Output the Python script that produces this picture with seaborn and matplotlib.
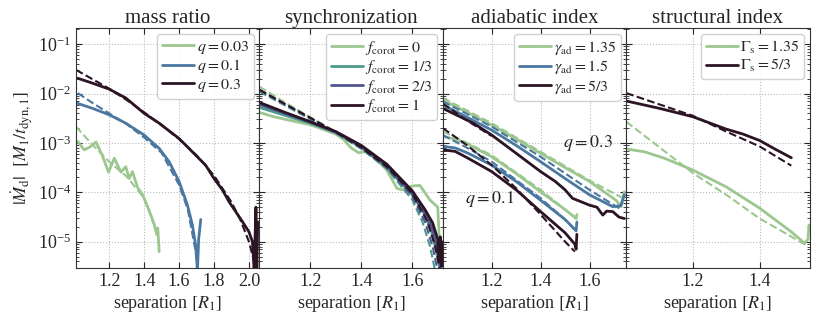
import numpy as np
import pandas as pd
import seaborn as sns
from matplotlib import pyplot as plt
from matplotlib.ticker import LogLocator

sns.set_style("ticks")
plt.rcParams['font.family'] = ['Liberation Serif', 'DejaVu Serif']
plt.rcParams['mathtext.fontset'] = 'stix'

GREEN = '#9cc78f'
BLUE = '#4b78a0'
DARK = '#2b1424'
TEAL = '#4a9a8d'
PURPLE = '#4f5690'

# ---- mass ratio panel (x in R1, y as log10 |Mdot|) ----
q003_x = [1.02, 1.057, 1.09, 1.124, 1.16, 1.196, 1.229, 1.267, 1.295, 1.314, 1.333, 1.362, 1.39, 1.429, 1.457, 1.472, 1.478, 1.486]
q003_y = [-2.97, -3.14, -3.08, -2.98, -3.25, -3.59, -3.31, -3.59, -3.48, -3.72, -3.58, -3.9, -4.04, -4.37, -4.64, -4.85, -4.72, -5.2]
q003_fx = [1.01, 1.1, 1.2, 1.3, 1.4, 1.45, 1.48]
q003_fy = [-2.67, -3.02, -3.38, -3.68, -4.12, -4.6, -4.85]
q01_x = [1.02, 1.105, 1.2, 1.295, 1.4, 1.486, 1.543, 1.6, 1.648, 1.676, 1.695, 1.705, 1.712, 1.724]
q01_y = [-2.2, -2.3, -2.43, -2.6, -2.84, -3.11, -3.38, -3.78, -4.26, -4.66, -5.07, -5.6, -4.95, -4.55]
q01_fx = [1.02, 1.1, 1.2, 1.3, 1.4, 1.5, 1.6, 1.65, 1.695, 1.71]
q01_fy = [-1.99, -2.18, -2.4, -2.62, -2.89, -3.2, -3.85, -4.35, -5.2, -5.6]
q03_x = [1.02, 1.105, 1.2, 1.295, 1.4, 1.486, 1.6, 1.676, 1.752, 1.8, 1.848, 1.886, 1.924, 1.962, 2.0, 2.02, 2.03, 2.035, 2.04, 2.045, 2.05]
q03_y = [-1.69, -1.79, -1.91, -2.09, -2.4, -2.6, -2.91, -3.18, -3.45, -3.72, -3.95, -4.19, -4.39, -4.59, -4.8, -5.0, -5.6, -4.9, -4.3, -5.6, -4.6]
q03_fx = [1.01, 1.1, 1.2, 1.3, 1.4, 1.5, 1.6, 1.7, 1.8, 1.9, 1.95, 2.0, 2.03, 2.05]
q03_fy = [-1.52, -1.7, -1.9, -2.13, -2.38, -2.64, -2.92, -3.25, -3.66, -4.2, -4.55, -5.0, -5.4, -5.8]

# ---- synchronization panel ----
f0_x = [1.0, 1.05, 1.1, 1.2, 1.3, 1.33, 1.36, 1.39, 1.42, 1.45, 1.5, 1.54, 1.56, 1.6, 1.63, 1.67, 1.70, 1.705, 1.71]
f0_y = [-2.38, -2.46, -2.52, -2.63, -2.82, -2.93, -3.1, -3.2, -3.17, -3.28, -3.55, -3.92, -3.95, -3.87, -3.86, -4.16, -4.3, -4.85, -5.0]
f13_x = [1.0, 1.1, 1.2, 1.3, 1.4, 1.5, 1.6, 1.65, 1.68, 1.70, 1.71]
f13_y = [-2.28, -2.44, -2.6, -2.79, -3.09, -3.5, -4.05, -4.45, -4.85, -5.3, -5.6]
f23_x = [1.0, 1.1, 1.2, 1.3, 1.4, 1.5, 1.6, 1.65, 1.68, 1.70, 1.71]
f23_y = [-2.22, -2.4, -2.58, -2.78, -3.07, -3.47, -4.02, -4.42, -4.75, -5.2, -5.5]
f1_x = [1.0, 1.1, 1.2, 1.3, 1.4, 1.5, 1.6, 1.65, 1.68, 1.70, 1.705, 1.71, 1.715, 1.72]
f1_y = [-2.18, -2.38, -2.57, -2.77, -3.05, -3.43, -3.97, -4.35, -4.62, -4.95, -5.4, -4.9, -5.5, -5.0]
f0_fx = [1.0, 1.1, 1.2, 1.3, 1.4, 1.5, 1.6, 1.65, 1.68, 1.71]
f0_fy = [-1.86, -2.18, -2.48, -2.78, -3.08, -3.45, -4.0, -4.45, -4.9, -5.6]
f13_fx = [1.0, 1.1, 1.2, 1.3, 1.4, 1.5, 1.6, 1.64, 1.67, 1.69]
f13_fy = [-1.96, -2.24, -2.52, -2.8, -3.12, -3.52, -4.15, -4.6, -5.1, -5.6]
f23_fx = [1.0, 1.1, 1.2, 1.3, 1.4, 1.5, 1.6, 1.65, 1.68, 1.70]
f23_fy = [-1.93, -2.22, -2.5, -2.79, -3.1, -3.5, -4.08, -4.6, -5.1, -5.6]
f1_fx = [1.0, 1.1, 1.2, 1.3, 1.4, 1.5, 1.6, 1.66, 1.69, 1.71]
f1_fy = [-1.92, -2.21, -2.49, -2.78, -3.09, -3.48, -4.02, -4.6, -5.1, -5.6]

# ---- adiabatic index panel (two mass ratios) ----
g135_hi_x = [1.0, 1.1, 1.2, 1.3, 1.4, 1.5, 1.6, 1.708, 1.728, 1.742]
g135_hi_y = [-2.13, -2.38, -2.64, -2.92, -3.21, -3.5, -3.78, -4.16, -4.29, -3.99]
g135_hi_fx = [1.0, 1.2, 1.4, 1.6, 1.73]
g135_hi_fy = [-2.09, -2.6, -3.18, -3.76, -4.1]
g15_hi_x = [1.0, 1.1, 1.2, 1.3, 1.4, 1.5, 1.6, 1.695, 1.728, 1.742]
g15_hi_y = [-2.23, -2.48, -2.74, -3.05, -3.38, -3.72, -4.05, -4.29, -4.27, -4.05]
g15_hi_fx = [1.0, 1.2, 1.4, 1.6, 1.73]
g15_hi_fy = [-2.16, -2.67, -3.28, -3.95, -4.35]
g53_hi_x = [1.0, 1.125, 1.2, 1.3, 1.4, 1.46, 1.5, 1.53, 1.6, 1.63, 1.654, 1.67, 1.695, 1.72, 1.742]
g53_hi_y = [-2.3, -2.6, -2.84, -3.21, -3.58, -3.78, -3.95, -4.12, -4.26, -4.3, -4.46, -4.38, -4.39, -4.5, -4.53]
g53_hi_fx = [1.0, 1.1, 1.2]
g53_hi_fy = [-2.2, -2.55, -2.86]
g135_lo_x = [1.0, 1.05, 1.1, 1.2, 1.3, 1.4, 1.5, 1.545, 1.548]
g135_lo_y = [-2.87, -2.92, -3.02, -3.28, -3.62, -3.99, -4.35, -4.53, -4.45]
g135_lo_fx = [1.0, 1.1, 1.2, 1.3, 1.4, 1.5, 1.54]
g135_lo_fy = [-2.77, -3.0, -3.25, -3.6, -3.95, -4.35, -4.5]
g15_lo_x = [1.0, 1.05, 1.1, 1.2, 1.3, 1.4, 1.5, 1.545, 1.548]
g15_lo_y = [-3.07, -3.1, -3.2, -3.45, -3.78, -4.16, -4.55, -4.78, -4.6]
g15_lo_fx = [1.0, 1.1, 1.2, 1.3, 1.4, 1.5, 1.54]
g15_lo_fy = [-2.84, -3.1, -3.38, -3.75, -4.12, -4.55, -4.75]
g53_lo_x = [1.0, 1.05, 1.1, 1.2, 1.3, 1.4, 1.5, 1.54, 1.545, 1.548]
g53_lo_y = [-3.14, -3.17, -3.3, -3.58, -3.95, -4.39, -4.82, -5.05, -5.15, -4.85]
g53_lo_fx = [1.0, 1.1, 1.2, 1.3, 1.4, 1.5, 1.54]
g53_lo_fy = [-2.7, -3.05, -3.45, -3.92, -4.45, -5.0, -5.2]

# ---- structural index panel ----
s135_x = [1.0, 1.055, 1.115, 1.2, 1.3, 1.4, 1.495, 1.535, 1.545, 1.548]
s135_y = [-3.12, -3.18, -3.31, -3.55, -3.89, -4.32, -4.8, -5.03, -4.95, -4.66]
s135_fx = [1.0, 1.2, 1.3, 1.4, 1.54]
s135_fy = [-2.57, -3.61, -4.05, -4.53, -5.07]
s53_x = [1.0, 1.1, 1.2, 1.3, 1.35, 1.4, 1.445, 1.495]
s53_y = [-2.15, -2.3, -2.47, -2.72, -2.82, -2.95, -3.12, -3.3]
s53_fx = [1.0, 1.2, 1.3, 1.4, 1.495]
s53_fy = [-1.99, -2.45, -2.77, -3.07, -3.46]

panels = [
    ("mass ratio", (1.01, 2.06), [1.2, 1.4, 1.6, 1.8, 2.0], [
        (q003_x, q003_y, q003_fx, q003_fy, GREEN, r"$q=0.03$"),
        (q01_x, q01_y, q01_fx, q01_fy, BLUE, r"$q=0.1$"),
        (q03_x, q03_y, q03_fx, q03_fy, DARK, r"$q=0.3$"),
    ]),
    ("synchronization", (1.0, 1.72), [1.2, 1.4, 1.6], [
        (f0_x, f0_y, f0_fx, f0_fy, GREEN, r"$f_{\rm corot}=0$"),
        (f13_x, f13_y, f13_fx, f13_fy, TEAL, r"$f_{\rm corot}=1/3$"),
        (f23_x, f23_y, f23_fx, f23_fy, PURPLE, r"$f_{\rm corot}=2/3$"),
        (f1_x, f1_y, f1_fx, f1_fy, DARK, r"$f_{\rm corot}=1$"),
    ]),
    ("adiabatic index", (1.0, 1.75), [1.2, 1.4, 1.6], [
        (g135_hi_x, g135_hi_y, g135_hi_fx, g135_hi_fy, GREEN, r"$\gamma_{\rm ad}=1.35$"),
        (g15_hi_x, g15_hi_y, g15_hi_fx, g15_hi_fy, BLUE, r"$\gamma_{\rm ad}=1.5$"),
        (g53_hi_x, g53_hi_y, g53_hi_fx, g53_hi_fy, DARK, r"$\gamma_{\rm ad}=5/3$"),
        (g135_lo_x, g135_lo_y, g135_lo_fx, g135_lo_fy, GREEN, None),
        (g15_lo_x, g15_lo_y, g15_lo_fx, g15_lo_fy, BLUE, None),
        (g53_lo_x, g53_lo_y, g53_lo_fx, g53_lo_fy, DARK, None),
    ]),
    ("structural index", (1.0, 1.55), [1.2, 1.4], [
        (s135_x, s135_y, s135_fx, s135_fy, GREEN, r"$\Gamma_{\rm s}=1.35$"),
        (s53_x, s53_y, s53_fx, s53_fy, DARK, r"$\Gamma_{\rm s}=5/3$"),
    ]),
]

fig, axes = plt.subplots(1, 4, figsize=(8.22, 3.2), dpi=100, sharey=True)
fig.subplots_adjust(left=0.0925, right=0.985, top=0.9116, bottom=0.1616, wspace=0)

for ax, (title, xlim, xticks, curves) in zip(axes, panels):
    for xs, ys, fx, fy, col, lab in curves:
        sns.lineplot(x=fx, y=10 ** np.array(fy), ax=ax, color=col, lw=1.5, ls='--',
                     estimator=None, sort=False)
        sns.lineplot(x=xs, y=10 ** np.array(ys), ax=ax, color=col, lw=2, label=lab,
                     estimator=None, sort=False)
    ax.set_yscale('log')
    ax.set_ylim(2.9e-6, 0.21)
    ax.set_xlim(*xlim)
    ax.set_xticks(xticks)
    ax.yaxis.set_minor_locator(LogLocator(base=10, subs=np.arange(2, 10), numticks=20))
    ax.set_title(title, fontsize=15, pad=4)
    ax.set_xlabel(r"separation $[R_1]$", fontsize=13, labelpad=2)
    ax.grid(True, which='major', ls=':', color='#bbbbbb', lw=0.8)
    ax.tick_params(which='both', direction='in', top=True, right=True, labelsize=13)
    ax.tick_params(which='major', length=4)
    ax.tick_params(which='minor', length=2)
    for sp in ax.spines.values():
        sp.set_color('#333333')
    ax.legend(loc='upper right', fontsize=11.5, handlelength=2.0, handletextpad=0.15,
              labelspacing=0.1, borderpad=0.3, borderaxespad=0.35, framealpha=0.9)

axes[0].set_ylabel(r"$|\dot{M}_{\rm d}|$  $[M_1/t_{\rm dyn,1}]$", fontsize=13, labelpad=2)
axes[2].text(1.595, 1e-3, r"$q=0.3$", fontsize=13, ha='center', va='center')
axes[2].text(1.193, 10 ** -4.14, r"$q=0.1$", fontsize=13, ha='center', va='center')

plt.savefig('out.png', dpi=100)
